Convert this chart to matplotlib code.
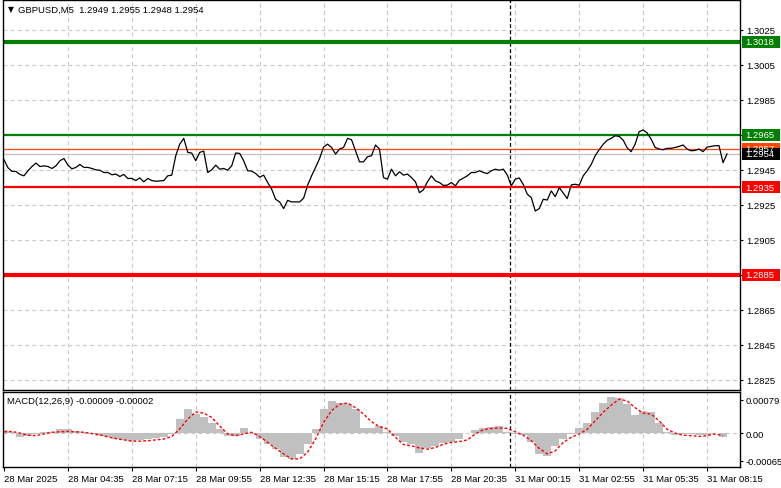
import numpy as np
import matplotlib
matplotlib.use('Agg')
import matplotlib.pyplot as plt
from matplotlib.patches import Rectangle
from matplotlib.transforms import blended_transform_factory

# ---------------- data ----------------
title_text = "GBPUSD,M5  1.2949 1.2955 1.2948 1.2954"
macd_text = "MACD(12,26,9) -0.00009 -0.00002"

# close prices, one value every 2 bars (10 minutes)
closes = [
    1.29507, 1.29461, 1.2944, 1.2944, 1.29423, 1.29415, 1.29444, 1.29468, 1.29488, 1.29468,
    1.29472, 1.29468, 1.29457, 1.29472, 1.29501, 1.29514, 1.29476, 1.29455, 1.29463, 1.2948,
    1.29463, 1.29463, 1.29457, 1.29449, 1.29447, 1.29434, 1.29434, 1.29421, 1.29425, 1.29411,
    1.29423, 1.294, 1.294, 1.29388, 1.29403, 1.29381, 1.294, 1.29388, 1.29384, 1.29386,
    1.29388, 1.29415, 1.29419, 1.2953, 1.29596, 1.29629, 1.29549, 1.29545, 1.29501, 1.29549,
    1.29556, 1.29434, 1.29449, 1.29476, 1.29453, 1.29457, 1.29447, 1.29472, 1.29545, 1.29543,
    1.29501, 1.29444, 1.29442, 1.29428, 1.29407,
    1.29419, 1.29377, 1.29339, 1.29281, 1.29266, 1.29228, 1.29275, 1.29266, 1.29266, 1.29266,
    1.29287, 1.29361, 1.29415, 1.29463, 1.29514, 1.29579, 1.29596, 1.29577, 1.29539, 1.29568,
    1.29577, 1.29629, 1.29621, 1.29558, 1.29495, 1.29495, 1.29524, 1.2953, 1.29591, 1.29568,
    1.29405, 1.29396, 1.29453, 1.29415, 1.29438, 1.29419, 1.29425, 1.29405, 1.29381, 1.29319,
    1.29335, 1.29381, 1.29415, 1.29386, 1.29377, 1.2936, 1.29362, 1.29377, 1.29358, 1.2939,
    1.29402, 1.29415, 1.29434, 1.29434, 1.29444, 1.29434, 1.29428, 1.29444, 1.29453, 1.29447,
    1.29453, 1.29419, 1.29358, 1.29396, 1.29403,
    1.29365, 1.2931, 1.29291, 1.29214, 1.29228, 1.29281, 1.29277, 1.29329, 1.29296, 1.29348,
    1.29316, 1.29285, 1.29363, 1.29367, 1.29361, 1.29415, 1.29444, 1.2948, 1.2953, 1.29564,
    1.29595, 1.29618, 1.29629, 1.29644, 1.2964, 1.29619, 1.29575, 1.29553, 1.29596, 1.29667,
    1.29677, 1.2966, 1.29625, 1.29577, 1.29568, 1.29564, 1.29572, 1.29572, 1.29577, 1.29583,
    1.29591, 1.29568, 1.29558, 1.2956, 1.29568, 1.29553, 1.29579, 1.29583, 1.29587, 1.29587,
    1.2949, 1.2954,
]

# MACD main (histogram) and signal, one value every 4 bars
macd_main = [
    0.00007, 0.00002, -0.0001, -0.00008, -0.00002, 0.00002, 0.00003, 0.0001, 0.0001, 0.00005,
    0.00002, -0.00002, -0.00006, -0.0001, -0.00014, -0.00016, -0.00018, -0.00016, -0.00014, -0.00012,
    -0.0001, -0.00002, 0.00033, 0.00056, 0.00045, 0.00037, 0.00025, 0.0001, -0.00006, -0.00006,
    0.00011, -0.00002, -0.00014, -0.00026, -0.00038, -0.00057, -0.00061, -0.00049, -0.00026, 0.0001,
    0.00056, 0.00076, 0.00072, 0.00068, 0.00056, 0.00013, 0.00011, 0.00017, 0.00002,
    -0.00008, -0.0002, -0.00026, -0.00048, -0.00035, -0.0003, -0.00024, -0.00022, -0.00014, 0.0,
    0.00008, 0.00013, 0.00015, 0.00016, 0.00002, -0.00002, -0.00005, -0.00022, -0.00049, -0.00053,
    -0.0003, -0.00014, -0.00002, 0.00013, 0.00025, 0.00049, 0.00072, 0.00086, 0.00084, 0.00068,
    0.00042, 0.00053, 0.00049, 0.00025, 0.00003, -0.00005, -0.00003, -0.00003, -0.00005, -0.00005,
    0.0, -0.0001,
]
macd_signal = [
    0.00003, 0.00004, 0.0, -0.00005, -0.00006, -0.00002, 0.00002, 0.00003, 0.00004, 0.00003,
    0.00002, -0.00001, -0.00004, -0.00009, -0.00013, -0.00016, -0.00019, -0.00019, -0.00018, -0.00016,
    -0.00014, -0.00008, 0.0001, 0.00033, 0.0005, 0.00047, 0.00037, 0.00017, -0.00002, -0.00006,
    -0.00002, 0.00002, -0.00008, -0.00022, -0.00036, -0.00049, -0.00061, -0.00061, -0.00045, -0.00014,
    0.00025, 0.00053, 0.00068, 0.00071, 0.0006, 0.00045, 0.00027, 0.00015, 0.0001,
    -0.0001, -0.00027, -0.0003, -0.00035, -0.00038, -0.00034, -0.00026, -0.00022, -0.0002, -0.00016,
    -0.00002, 0.00008, 0.00011, 0.00012, 0.00011, 0.00003, -0.00005, -0.00018, -0.00036, -0.00049,
    -0.00042, -0.00022, -0.0001, -0.00002, 0.00009, 0.00029, 0.00049, 0.00066, 0.0008, 0.00076,
    0.0006, 0.00047, 0.00045, 0.00029, 0.00009, 0.0, -0.00005, -0.00006, -0.00008, -0.00006,
    -0.00002, -0.00006,
]

time_labels = ['28 Mar 2025', '28 Mar 04:35', '28 Mar 07:15', '28 Mar 09:55', '28 Mar 12:35',
               '28 Mar 15:15', '28 Mar 17:55', '28 Mar 20:35', '31 Mar 00:15', '31 Mar 02:55',
               '31 Mar 05:35', '31 Mar 08:15']
bars_per_label = 32
separator_bar = 253.5

price_ticks = [1.3025, 1.3005, 1.2985, 1.2965, 1.2945, 1.2925, 1.2905, 1.2885, 1.2865, 1.2845, 1.2825]
macd_ticks = [0.00079, 0.0, -0.00065]
macd_tick_labels = ['0.00079', '0.00', '-0.00065']

level_values = [1.3018, 1.2965, 1.2957, 1.2954, 1.2935, 1.2885]
level_labels = ['1.3018', '1.2965', '1.2957', '1.2954', '1.2935', '1.2885']
level_colors = ['#008000', '#008000', '#FF4500', '#C0C0C0', '#FF0000', '#FF0000']
level_box_colors = ['#008000', '#008000', '#FF4500', '#000000', '#FF0000', '#FF0000']
level_widths = [3.0, 1.6, 0.9, 0.9, 1.6, 3.0]

# ---------------- figure ----------------
W, H = 781, 489
FS = 6.8
plt.rcParams['font.family'] = ['Liberation Sans', 'DejaVu Sans']
fig = plt.figure(figsize=(W / 100, H / 100), dpi=100)
fig.patch.set_facecolor('white')


def rect(l, t, r, b):
    return [l / W, 1 - b / H, (r - l) / W, (b - t) / H]


ax = fig.add_axes(rect(3, 1, 740, 391))
axm = fig.add_axes(rect(3, 393, 740, 468))

xmin, xmax = -0.5, 368.5
tick_bars = [i * bars_per_label for i in range(len(time_labels))]

grid_kw = dict(color='#C8C8C8', lw=0.8, linestyle=(0, (3.5, 3)), zorder=0.5)

for a in (ax, axm):
    a.set_xlim(xmin, xmax)
    for s in a.spines.values():
        s.set_color('black')
        s.set_linewidth(1.0)
    for tb in tick_bars[1:]:
        a.axvline(tb, **grid_kw)
    a.axvline(separator_bar, color='black', lw=0.9, linestyle=(0, (3, 2)), zorder=1)
    a.yaxis.tick_right()
    a.tick_params(axis='y', which='both', direction='out', length=2.5, width=0.8,
                  pad=2.3, labelsize=FS, colors='black')

# ---------------- price panel ----------------
ax.set_ylim(1.28192, 1.30419)
for p in price_ticks:
    ax.axhline(p, **grid_kw)
ax.set_yticks(price_ticks)
ax.set_yticklabels(['' if any(abs(p - v) < 1e-9 for v in level_values) else f'{p:.4f}'
                    for p in price_ticks])
ax.set_xticks([])

for v, c, w in zip(level_values, level_colors, level_widths):
    ax.axhline(v, color=c, lw=w, zorder=2)

bars = np.arange(len(closes)) * 2
ax.plot(bars, closes, color='black', lw=0.9, zorder=3)

tr = blended_transform_factory(ax.transAxes, ax.transData)
box_h = 12 / 17.5 * 0.001
for v, lab, bc in zip(level_values, level_labels, level_box_colors):
    ax.add_patch(Rectangle((1 + 1.5 / 737, v - box_h / 2), 38 / 737, box_h,
                           transform=tr, facecolor=bc, edgecolor='none',
                           clip_on=False, zorder=5))
    ax.text(1 + 5.5 / 737, v, lab, transform=tr, color='white', fontsize=FS,
            va='center', ha='left', zorder=6, clip_on=False)

fig.text(8 / W, 1 - 10 / H, '\u25BC', fontsize=5.5, va='center', ha='left', color='black',
         family='DejaVu Sans')
fig.text(18 / W, 1 - 10 / H, title_text, fontsize=FS, va='center', ha='left', color='black')

# ---------------- MACD panel ----------------
axm.set_ylim(-0.0008, 0.00097)
axm.axhline(0.0, **grid_kw)
mbars = np.arange(len(macd_main)) * 4
axm.bar(mbars, macd_main, width=4, color='#C0C0C0', edgecolor='none', zorder=2)
axm.plot(mbars, macd_signal, color='#FF0000', lw=1.0, linestyle=(0, (2, 1.5)), zorder=3)
axm.set_yticks(macd_ticks)
axm.set_yticklabels(macd_tick_labels)
axm.tick_params(axis='y', pad=1.2)
axm.set_xticks(tick_bars)
axm.set_xticklabels(time_labels, ha='left')
axm.tick_params(axis='x', direction='out', length=3, width=0.8, pad=2, labelsize=FS)
fig.text(7 / W, 1 - 402 / H, macd_text, fontsize=FS, va='center', ha='left', color='black')

fig.savefig('out.png', dpi=100)
